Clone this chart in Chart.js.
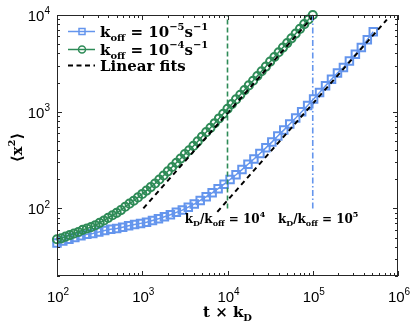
<!DOCTYPE html>
<html>
<head>
<meta charset="utf-8">
<script src="https://cdn.jsdelivr.net/npm/chart.js@4"></script>
<style>
  html, body { margin: 0; padding: 0; background: #fff; overflow: hidden; }
  canvas { display: block; }
</style>
</head>
<body>
<canvas id="msdChart" width="415" height="325"></canvas>
<script>
// time in units of 1/kD, MSD
const tSlow = [100, 117, 138, 162, 191, 224, 263, 309, 363, 427, 501, 589, 692, 813, 955,
  1122, 1318, 1549, 1820, 2138, 2512, 2951, 3467, 4074, 4786, 5623, 6607, 7762, 9120,
  10715, 12589, 14791, 17378, 20417, 23988, 28184, 33113, 38905, 45709, 53703, 63096,
  74131, 87096, 102329, 120226, 141254, 165959, 194984, 229087, 269153, 316228, 371535,
  436516, 512861];
const msdSlow = [44, 46, 48, 50, 52, 54, 55, 57, 59, 61, 62, 64, 66, 68, 70,
  72, 75, 78, 82, 86, 91, 96, 103, 111, 121, 132, 145, 160, 178,
  199, 223, 252, 286, 324, 370, 423, 485, 560, 645, 745, 860,
  1000, 1160, 1350, 1580, 1850, 2160, 2510, 2870, 3350, 3920, 4620,
  5560, 6700];

const tFast = [100, 112, 126, 141, 158, 178, 200, 224, 251, 282, 316, 355, 398, 447, 501, 562,
  631, 708, 794, 891, 1000, 1122, 1259, 1413, 1585, 1778, 1995, 2239, 2512, 2818, 3162, 3548,
  3981, 4467, 5012, 5623, 6310, 7079, 7943, 8913, 10000, 11220, 12589, 14125, 15849, 17783,
  19953, 22387, 25119, 28184, 31623, 35481, 39811, 44668, 50119, 56234, 63096, 70795, 79433,
  89125, 100000];
const msdFast = [48, 49, 51, 53, 55, 57, 60, 62, 64, 67, 71, 75, 80, 85, 90, 96,
  104, 112, 120, 130, 141, 153, 166, 181, 199, 219, 242, 268, 296, 328, 364, 398,
  443, 493, 551, 614, 681, 760, 851, 952, 1068, 1195, 1340, 1495, 1675, 1870,
  2090, 2340, 2620, 2930, 3290, 3680, 4120, 4600, 5120, 5740, 6420, 7190, 8040,
  8980, 10000];

const fitFastT = [1030, 100000];
const fitFastMsd = [100, 9600];
const fitSlowT = [7600, 740000];
const fitSlowMsd = [92, 8950];

// kD/koff marks
const crossoverT = [10000, 100000];
const crossoverMsd = [100, 10000];

const seriesLabels = ['k_{off} = 10^{\u22125}s^{\u22121}', 'k_{off} = 10^{\u22124}s^{\u22121}', 'Linear fits'];
const crossoverLabels = ['k_{D}/k_{off} = 10^{4}', 'k_{D}/k_{off} = 10^{5}'];
const xTickValues = [1e2, 1e3, 1e4, 1e5, 1e6];
const xTickLabels = ['10^{2}', '10^{3}', '10^{4}', '10^{5}', '10^{6}'];
const yTickValues = [1e2, 1e3, 1e4];
const yTickLabels = ['10^{2}', '10^{3}', '10^{4}'];
const xTitle = 't \u00d7 k_{D}';
const yTitle = '\u27e8x^{2}\u27e9';

const BLUE = '#6495ED';
const GREEN = '#2E8B57';
const SERIF = '"DejaVu Serif", serif';
const SANS = '"Liberation Sans", Arial, sans-serif';

const pts = (xs, ys) => xs.map((v, i) => ({x: v, y: ys[i]}));

// split "a_{b}^{c}" into plain / sub / sup pieces
function parseRich(s) {
  const parts = [];
  let buf = '';
  let i = 0;
  while (i < s.length) {
    const c = s[i];
    if ((c === '_' || c === '^') && s[i + 1] === '{') {
      if (buf) { parts.push({t: buf, k: 0}); buf = ''; }
      const j = s.indexOf('}', i);
      parts.push({t: s.slice(i + 2, j), k: c === '_' ? -1 : 1});
      i = j + 1;
    } else {
      buf += c;
      i++;
    }
  }
  if (buf) parts.push({t: buf, k: 0});
  return parts;
}

function drawRich(ctx, s, x, y, size, family, weight, align, small) {
  const parts = parseRich(s);
  const ratio = small || 0.68;
  let w = 0;
  parts.forEach(p => {
    p.font = `${weight} ${p.k ? Math.round(size * ratio) : size}px ${family}`;
    ctx.font = p.font;
    p.w = ctx.measureText(p.t).width;
    w += p.w;
  });
  let cx = align === 'center' ? x - w / 2 : align === 'right' ? x - w : x;
  ctx.textAlign = 'left';
  ctx.textBaseline = 'alphabetic';
  parts.forEach(p => {
    ctx.font = p.font;
    const dy = p.k === 1 ? -size * 0.45 : p.k === -1 ? size * 0.28 : 0;
    ctx.fillText(p.t, cx, y + dy);
    cx += p.w;
  });
}

function logTicks(lo, hi) {
  const out = [];
  for (let d = Math.floor(Math.log10(lo)); d <= Math.ceil(Math.log10(hi)); d++) {
    for (let m = 1; m < 10; m++) {
      const v = m * Math.pow(10, d);
      if (v >= lo * 0.999 && v <= hi * 1.001) out.push([v, m === 1]);
    }
  }
  return out;
}

const matlabAxes = {
  id: 'matlabAxes',
  afterDatasetsDraw(chart) {
    const {ctx, chartArea: a, scales: {x, y}} = chart;
    ctx.save();
    ctx.strokeStyle = '#262626';
    ctx.lineWidth = 1;
    ctx.setLineDash([]);
    ctx.strokeRect(a.left + 0.5, a.top + 0.5, a.right - a.left - 1, a.bottom - a.top - 1);

    // inward ticks on all four sides
    ctx.beginPath();
    logTicks(x.min, x.max).forEach(([v, major]) => {
      const px = Math.round(x.getPixelForValue(v)) + 0.5;
      const len = major ? 5 : 3;
      ctx.moveTo(px, a.bottom); ctx.lineTo(px, a.bottom - len);
      ctx.moveTo(px, a.top); ctx.lineTo(px, a.top + len);
    });
    logTicks(y.min, y.max).forEach(([v, major]) => {
      const py = Math.round(y.getPixelForValue(v)) + 0.5;
      const len = major ? 5 : 3;
      ctx.moveTo(a.left, py); ctx.lineTo(a.left + len, py);
      ctx.moveTo(a.right, py); ctx.lineTo(a.right - len, py);
    });
    ctx.stroke();

    ctx.fillStyle = '#000';
    xTickValues.forEach((v, i) => {
      drawRich(ctx, xTickLabels[i], x.getPixelForValue(v) + 1, a.bottom + 26, 15, SANS, 'normal', 'center', 0.66);
    });
    yTickValues.forEach((v, i) => {
      drawRich(ctx, yTickLabels[i], a.left - 7, y.getPixelForValue(v) + 6, 15, SANS, 'normal', 'right', 0.66);
    });

    // axis titles
    drawRich(ctx, xTitle, (a.left + a.right) / 2, 317, 15, SERIF, 'bold', 'center');
    ctx.save();
    ctx.translate(17, (a.top + a.bottom) / 2 + 2);
    ctx.rotate(-Math.PI / 2);
    drawRich(ctx, yTitle, 0, 5, 15, SERIF, 'bold', 'center');
    ctx.restore();

    // kD/koff notes
    drawRich(ctx, crossoverLabels[0], x.getPixelForValue(3150), y.getPixelForValue(71), 12, SERIF, 'bold', 'left');
    drawRich(ctx, crossoverLabels[1], x.getPixelForValue(39000), y.getPixelForValue(71), 12, SERIF, 'bold', 'left');

    // legend
    const rows = [a.top + 16.5, a.top + 34.5, a.top + 50.5];
    const lx0 = a.left + 11, lx1 = a.left + 38, mx = a.left + 25;
    ctx.lineWidth = 1.5;
    ctx.strokeStyle = BLUE;
    ctx.beginPath(); ctx.moveTo(lx0, rows[0]); ctx.lineTo(lx1, rows[0]); ctx.stroke();
    ctx.strokeRect(mx - 3, rows[0] - 3, 6, 6);
    ctx.strokeStyle = GREEN;
    ctx.beginPath(); ctx.moveTo(lx0, rows[1]); ctx.lineTo(lx1, rows[1]); ctx.stroke();
    ctx.beginPath(); ctx.arc(mx, rows[1], 3.5, 0, Math.PI * 2); ctx.stroke();
    ctx.strokeStyle = '#000';
    ctx.lineWidth = 2;
    ctx.setLineDash([5, 3.5]);
    ctx.beginPath(); ctx.moveTo(lx0, rows[2]); ctx.lineTo(lx1, rows[2]); ctx.stroke();
    ctx.setLineDash([]);
    seriesLabels.forEach((s, i) => {
      drawRich(ctx, s, a.left + 43, rows[i] + 5.5, 15, SERIF, 'bold', 'left');
    });
    ctx.restore();
  }
};

const ctx = document.getElementById('msdChart');
const msdChart = new Chart(ctx, {
  type: 'scatter',
  data: {
    datasets: [
      {
        data: pts([crossoverT[0], crossoverT[0]], crossoverMsd),
        showLine: true, borderColor: GREEN, borderWidth: 1.6, borderDash: [5, 3], pointRadius: 0
      },
      {
        data: pts([crossoverT[1], crossoverT[1]], crossoverMsd),
        showLine: true, borderColor: BLUE, borderWidth: 1.6, borderDash: [6, 2.5, 1.5, 2.5], pointRadius: 0
      },
      {
        data: pts(fitFastT, fitFastMsd),
        showLine: true, borderColor: '#000', borderWidth: 2, borderDash: [5, 4], pointRadius: 0
      },
      {
        data: pts(fitSlowT, fitSlowMsd),
        showLine: true, borderColor: '#000', borderWidth: 2, borderDash: [5, 4], pointRadius: 0
      },
      {
        data: pts(tFast, msdFast),
        showLine: true, borderColor: GREEN, borderWidth: 1.5,
        pointStyle: 'circle', pointRadius: 4.1, pointBorderWidth: 2,
        pointBorderColor: GREEN, pointBackgroundColor: 'rgba(0,0,0,0)', clip: false
      },
      {
        data: pts(tSlow, msdSlow),
        showLine: true, borderColor: BLUE, borderWidth: 1.5,
        pointStyle: 'rect', pointRadius: 5.3, pointBorderWidth: 2,
        pointBorderColor: BLUE, pointBackgroundColor: 'rgba(0,0,0,0)', clip: false
      }
    ]
  },
  options: {
    animation: false,
    responsive: false,
    devicePixelRatio: 1,
    layout: { padding: { left: 57, right: 17, top: 15, bottom: 49 } },
    plugins: { legend: { display: false }, tooltip: { enabled: false } },
    scales: {
      x: {
        type: 'logarithmic', min: 100, max: 1e6,
        ticks: { display: false },
        grid: { display: false, drawTicks: false },
        border: { display: false }
      },
      y: {
        type: 'logarithmic', min: 20, max: 1e4,
        ticks: { display: false },
        grid: { display: false, drawTicks: false },
        border: { display: false }
      }
    }
  },
  plugins: [matlabAxes]
});
</script>
</body>
</html>
